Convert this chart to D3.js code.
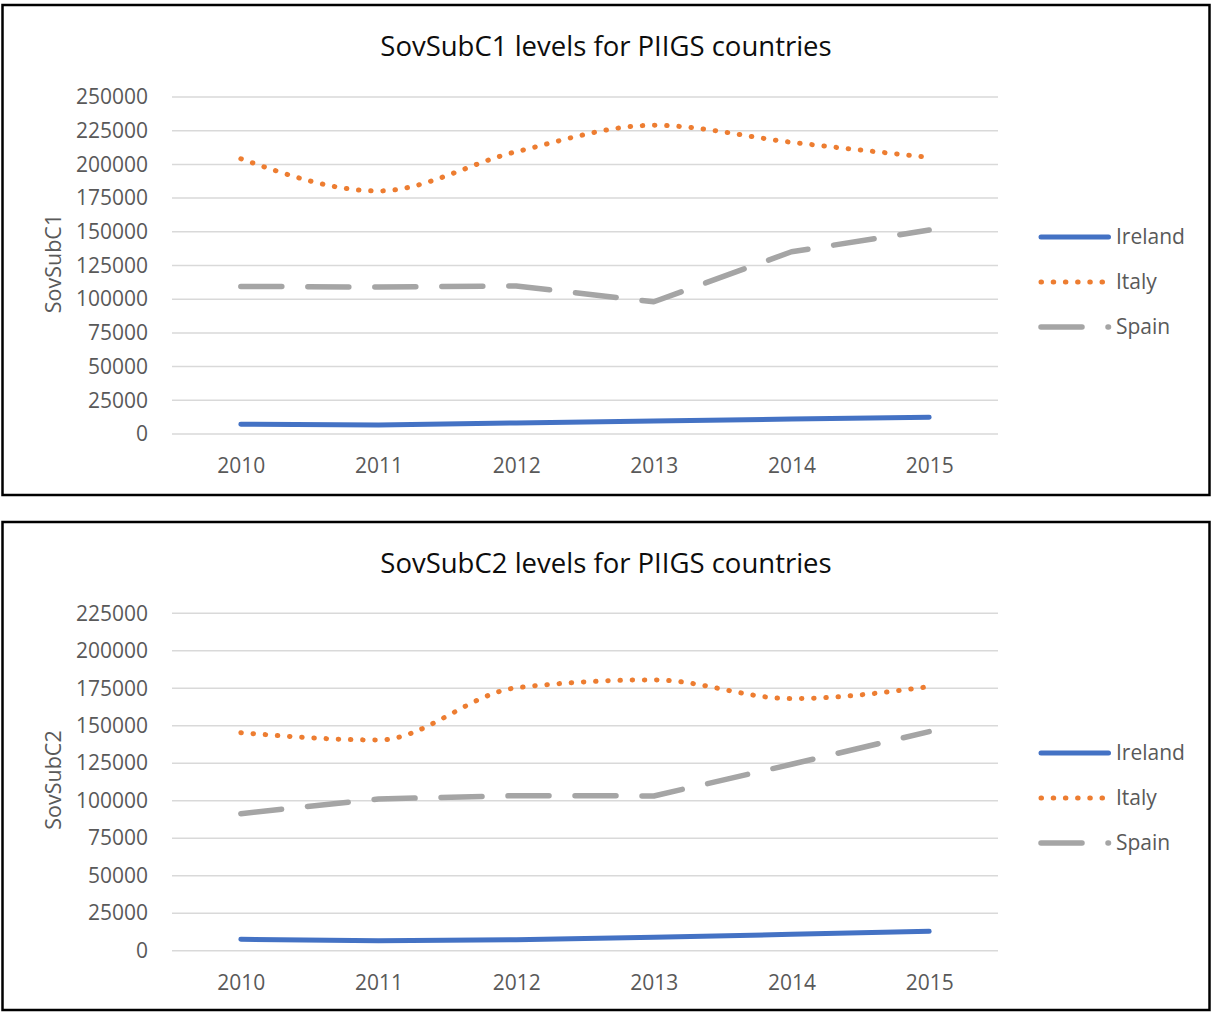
<!DOCTYPE html>
<html>
<head>
<meta charset="utf-8">
<script src="https://cdn.jsdelivr.net/npm/d3@7"></script>
<style>
  html, body { margin: 0; padding: 0; background: #fff; }
  svg { display: block; }
  text { font-family: "Open Sans", "Noto Sans", sans-serif; }
</style>
</head>
<body>
<svg id="chart" width="1212" height="1012"></svg>
<script>
// Years on the category axis
const years = ["2010", "2011", "2012", "2013", "2014", "2015"];
const countries = ["Ireland", "Italy", "Spain"];

// SovSubC1 levels
const c1Ireland = [7200, 6700, 8200, 9600, 11100, 12400];
const c1Italy   = [204200, 180300, 209400, 229000, 216400, 205200];
const c1Spain   = [109500, 109000, 109800, 98100, 135200, 151300];
const c1Ticks   = [0, 25000, 50000, 75000, 100000, 125000, 150000, 175000, 200000, 225000, 250000];

// SovSubC2 levels
const c2Ireland = [7600, 6700, 7300, 8900, 10900, 12900];
const c2Italy   = [145400, 140500, 175300, 180600, 168100, 176100];
const c2Spain   = [91400, 101200, 103400, 103200, 124300, 146100];
const c2Ticks   = [0, 25000, 50000, 75000, 100000, 125000, 150000, 175000, 200000, 225000];

const styles = {
  Ireland: { color: "#4472C4", width: 5,   dash: null,       curve: d3.curveLinear },
  Italy:   { color: "#ED7D31", width: 5,   dash: "0.5,11.7", curve: d3.curveMonotoneX },
  Spain:   { color: "#A5A5A5", width: 5.5, dash: "41,26",    curve: d3.curveLinear }
};

const svg = d3.select("#chart");

function drawChart(opts) {
  const g = svg.append("g").attr("transform", `translate(0,${opts.top})`);

  // outer frame
  g.append("rect")
    .attr("x", 2.5).attr("y", 0)
    .attr("width", 1207).attr("height", opts.height)
    .attr("fill", "#fff").attr("stroke", "#000").attr("stroke-width", 2.5);

  const x = d3.scalePoint().domain(years).range([172, 998]).padding(0.5);
  const y = d3.scaleLinear().domain([0, d3.max(opts.ticks)]).range([opts.plotBottom, opts.plotTop]);

  // title
  g.append("text")
    .attr("x", 606).attr("y", 50.5)
    .attr("text-anchor", "middle")
    .attr("font-size", 27.5).attr("fill", "#0d0d0d")
    .text(opts.title);

  // value labels on the left
  const yAxis = d3.axisLeft(y).tickValues(opts.ticks).tickSize(0).tickPadding(24).tickFormat(d3.format("d"));
  const ya = g.append("g").attr("transform", "translate(172,0)").call(yAxis);
  ya.select(".domain").remove();
  ya.selectAll("text").attr("font-size", 21).attr("fill", "#595959").attr("font-family", "Open Sans");

  // horizontal gridlines
  g.append("g").selectAll("line").data(opts.ticks).join("line")
    .attr("x1", 172).attr("x2", 998)
    .attr("y1", d => y(d)).attr("y2", d => y(d))
    .attr("stroke", "#D9D9D9").attr("stroke-width", 1.5);

  // year labels
  const xAxis = d3.axisBottom(x).tickSize(0).tickPadding(24.4);
  const xa = g.append("g").attr("transform", `translate(0,${opts.plotBottom})`).call(xAxis);
  xa.select(".domain").remove();
  xa.selectAll("text").attr("font-size", 21).attr("fill", "#595959").attr("font-family", "Open Sans");

  // y axis title
  g.append("text")
    .attr("transform", `translate(61,${(opts.plotTop + opts.plotBottom) / 2 - 2}) rotate(-90)`)
    .attr("text-anchor", "middle")
    .attr("font-size", 21.5).attr("fill", "#595959")
    .text(opts.yTitle);

  // series
  const series = { Ireland: opts.ireland, Italy: opts.italy, Spain: opts.spain };
  countries.forEach(c => {
    const s = styles[c];
    const line = d3.line().x((d, i) => x(years[i])).y(d => y(d)).curve(s.curve);
    g.append("path")
      .datum(series[c])
      .attr("d", line)
      .attr("fill", "none")
      .attr("stroke", s.color)
      .attr("stroke-width", s.width)
      .attr("stroke-linecap", "round")
      .attr("stroke-linejoin", "round")
      .attr("stroke-dasharray", s.dash);
  });

  // legend
  countries.forEach((c, i) => {
    const s = styles[c];
    const ly = opts.legendTop + i * 45;
    g.append("line")
      .attr("x1", 1041).attr("x2", 1108.5)
      .attr("y1", ly).attr("y2", ly)
      .attr("stroke", s.color)
      .attr("stroke-width", s.width)
      .attr("stroke-linecap", "round")
      .attr("stroke-dasharray", s.dash);
    g.append("text")
      .attr("x", 1116).attr("y", ly)
      .attr("dy", "0.35em")
      .attr("font-size", 21).attr("fill", "#595959")
      .text(c);
  });
}

drawChart({
  top: 5, height: 490,
  title: "SovSubC1 levels for PIIGS countries",
  yTitle: "SovSubC1",
  ticks: c1Ticks,
  plotTop: 92, plotBottom: 429,
  legendTop: 232,
  ireland: c1Ireland, italy: c1Italy, spain: c1Spain
});

drawChart({
  top: 522, height: 488,
  title: "SovSubC2 levels for PIIGS countries",
  yTitle: "SovSubC2",
  ticks: c2Ticks,
  plotTop: 91.3, plotBottom: 428.7,
  legendTop: 231,
  ireland: c2Ireland, italy: c2Italy, spain: c2Spain
});
</script>
</body>
</html>
